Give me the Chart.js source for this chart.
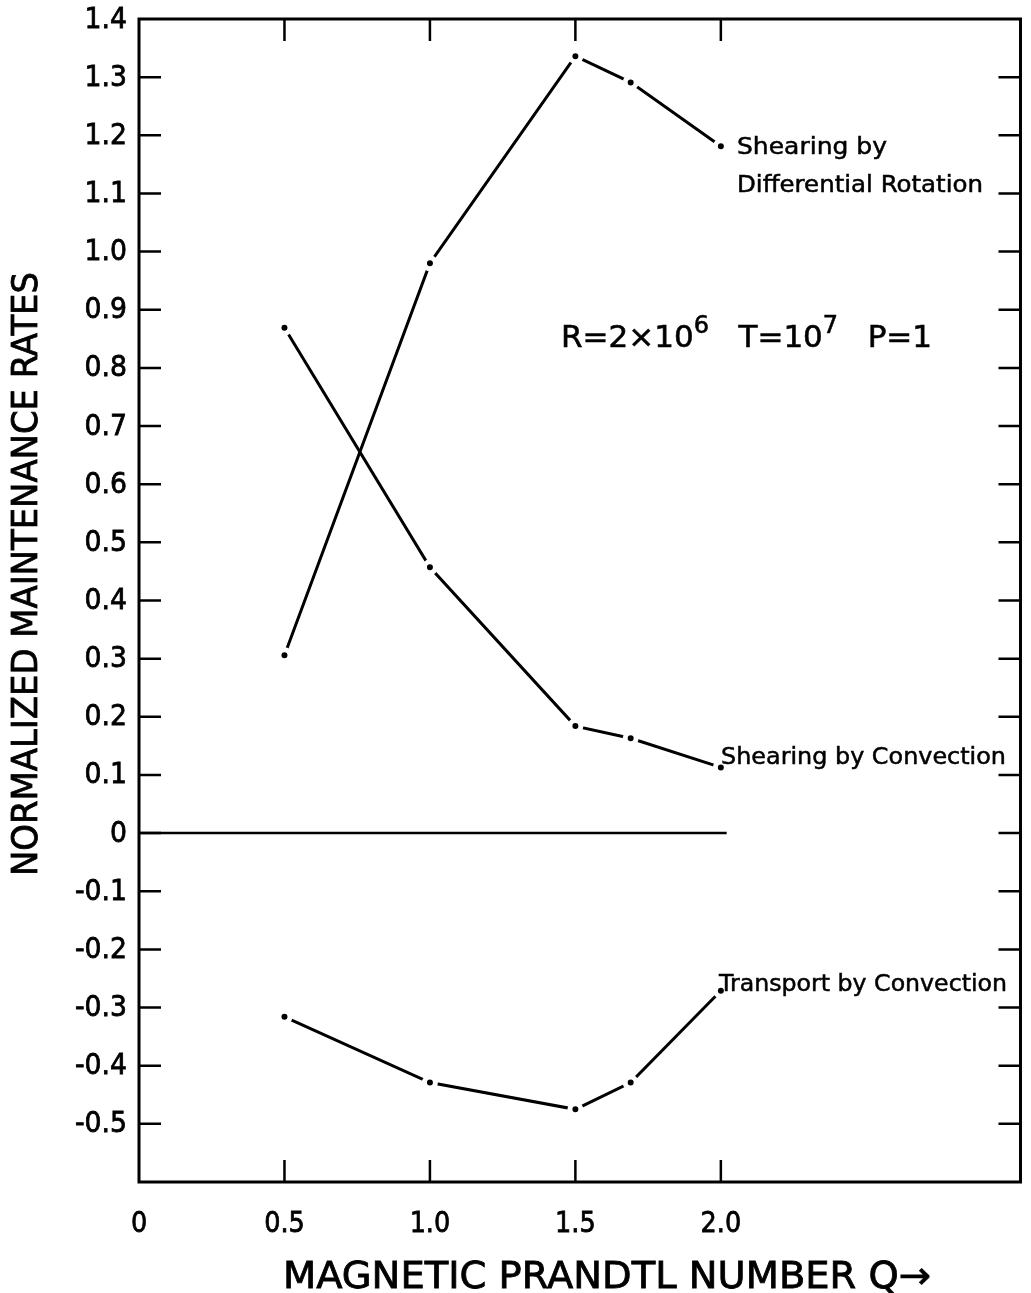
<!DOCTYPE html>
<html>
<head>
<meta charset="utf-8">
<script src="https://cdn.jsdelivr.net/npm/chart.js@4/dist/chart.umd.min.js"></script>
<style>
  html, body { margin: 0; padding: 0; background: #fff; }
  #wrap { width: 1031px; height: 1293px; }
</style>
</head>
<body>
<div id="wrap"><canvas id="chart" width="1031" height="1293"></canvas></div>
<script>
/* ---- data ---- */
const qValues = [0.5, 1.0, 1.5, 1.69, 2.0];
const diffRotation = [0.306, 0.980, 1.336, 1.291, 1.181];
const convShearing = [0.869, 0.457, 0.184, 0.163, 0.113];
const convTransport = [-0.316, -0.429, -0.475, -0.429, -0.271];
const zeroLineQ = [0, 2.02];
const zeroLineVal = [0, 0];

const xTickLabels = ["0", "0.5", "1.0", "1.5", "2.0"];
const xTickMarks = [0.5, 1.0, 1.5, 2.0];

const FONT = '"DejaVu Sans", "Liberation Sans", sans-serif';
const SQUEEZE = 0.92;

function pairs(xs, ys) {
  return xs.map((x, i) => ({ x: x, y: ys[i] }));
}

function seriesStyle(label, data) {
  return {
    label: label,
    data: data,
    borderColor: "#000",
    borderWidth: 3,
    pointRadius: 5.5,
    pointBorderWidth: 5,
    pointBackgroundColor: "#000",
    pointBorderColor: "#fff",
    tension: 0,
    fill: false
  };
}

// draw text squeezed/stretched to a given width (or by a factor), slightly emboldened
function fitText(ctx, text, x, y, size, width, factor, weight) {
  ctx.save();
  ctx.font = size + "px " + FONT;
  const w = ctx.measureText(text).width;
  ctx.translate(x, y);
  const s = width ? width / w : (factor || 1);
  ctx.scale(s, 1);
  ctx.fillText(text, 0, 0);
  if (weight) {
    ctx.lineWidth = weight;
    ctx.strokeText(text, 0, 0);
  }
  ctx.restore();
}

const frame = {
  id: "frame",
  afterDraw(chart) {
    const ctx = chart.ctx;
    const a = chart.chartArea;
    const xs = chart.scales.x;
    const ys = chart.scales.y;
    ctx.save();
    ctx.strokeStyle = "#000";
    ctx.fillStyle = "#000";
    ctx.lineWidth = 3;
    ctx.strokeRect(a.left, a.top, a.right - a.left, a.bottom - a.top);

    // inward tick marks + y labels
    ctx.textAlign = "right";
    ctx.textBaseline = "middle";
    ys.ticks.forEach(t => {
      const r = Math.round(t.value * 10) / 10;
      const py = ys.getPixelForValue(t.value);
      if (r > ys.min + 1e-6 && r < ys.max - 1e-6) {
        ctx.lineWidth = 2.5;
        ctx.beginPath();
        ctx.moveTo(a.left, py); ctx.lineTo(a.left + 22, py);
        ctx.moveTo(a.right, py); ctx.lineTo(a.right - 22, py);
        ctx.stroke();
      }
      if (r > -0.55) {
        const lbl = r === 0 ? "0" : r.toFixed(1);
        fitText(ctx, lbl, a.left - 12, py + 1, 29, 0, SQUEEZE, 0.8);
      }
    });
    ctx.lineWidth = 2.5;
    xTickMarks.forEach(v => {
      const px = xs.getPixelForValue(v);
      ctx.beginPath();
      ctx.moveTo(px, a.bottom); ctx.lineTo(px, a.bottom - 22);
      ctx.moveTo(px, a.top); ctx.lineTo(px, a.top + 22);
      ctx.stroke();
    });
    ctx.textAlign = "center";
    ctx.textBaseline = "alphabetic";
    xTickLabels.forEach((lbl, i) => {
      const px = xs.getPixelForValue(i * 0.5);
      fitText(ctx, lbl, px, 1232, 29, 0, 0.88, 0.8);
    });

    // axis titles
    ctx.textAlign = "left";
    fitText(ctx, "MAGNETIC PRANDTL NUMBER Q\u2192", 283, 1288, 37, 648, 0, 0.8);
    ctx.save();
    ctx.translate(37, 876);
    ctx.rotate(-Math.PI / 2);
    fitText(ctx, "NORMALIZED MAINTENANCE RATES", 0, 0, 35, 604, 0, 0.8);
    ctx.restore();

    // curve labels
    fitText(ctx, "Shearing by", 737, 154, 23, 150, 0, 0.5);
    fitText(ctx, "Differential Rotation", 737, 192, 23, 246, 0, 0.5);
    fitText(ctx, "Shearing by Convection", 721, 764, 23, 285, 0, 0.5);
    fitText(ctx, "Transport by Convection", 719, 991, 23, 288, 0, 0.5);

    // parameters
    let x = 561;
    const base = 347;
    const parts = [
      ["R=2\u00d710", 0], ["6", 1], ["   T=10", 0], ["7", 1], ["   P=1", 0]
    ];
    parts.forEach(p => {
      ctx.font = (p[1] ? "24px " : "31px ") + FONT;
      fitText(ctx, p[0], x, p[1] ? base - 14 : base, p[1] ? 24 : 31, 0, 1, 0.6);
      x += ctx.measureText(p[0]).width;
    });
    ctx.restore();
  }
};

new Chart(document.getElementById("chart"), {
  type: "line",
  data: {
    datasets: [
      seriesStyle("Shearing by Differential Rotation", pairs(qValues, diffRotation)),
      seriesStyle("Shearing by Convection", pairs(qValues, convShearing)),
      seriesStyle("Transport by Convection", pairs(qValues, convTransport)),
      {
        label: "zero",
        data: pairs(zeroLineQ, zeroLineVal),
        borderColor: "#000",
        borderWidth: 2.5,
        pointRadius: 0
      }
    ]
  },
  options: {
    responsive: false,
    animation: false,
    layout: { padding: { top: 19, right: 10, left: 0, bottom: 0 } },
    plugins: { legend: { display: false }, tooltip: { enabled: false } },
    scales: {
      x: {
        type: "linear",
        min: 0,
        max: 3.03,
        grid: { display: false, drawTicks: false },
        border: { display: false },
        afterFit(scale) { scale.height = 111; },
        ticks: { display: false, stepSize: 0.5 }
      },
      y: {
        min: -0.6,
        max: 1.4,
        grid: { display: false, drawTicks: false },
        border: { display: false },
        afterFit(scale) { scale.width = 139; },
        ticks: { display: false, stepSize: 0.1 }
      }
    }
  },
  plugins: [frame]
});
</script>
</body>
</html>
